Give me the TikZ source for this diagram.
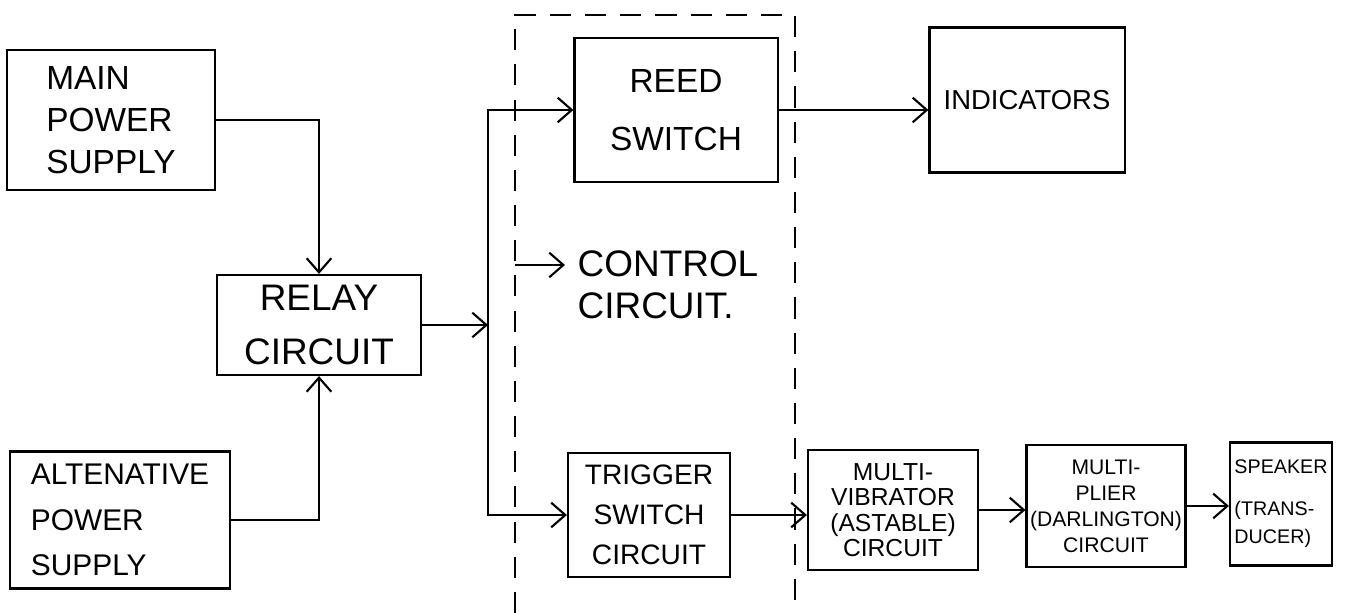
\documentclass[tikz,border=0pt]{standalone}
\usepackage{fontspec}
\setmainfont{Liberation Sans}
\usetikzlibrary{arrows.meta,positioning}

\begin{document}
\begin{tikzpicture}[x=0.01cm,y=-0.01cm,semithick,
  blk/.style={draw,align=center,inner sep=1pt},
  flow/.style={-{Straight Barb[length=4pt,width=7pt]}}]
\useasboundingbox (0,0) rectangle (1351,613);
\draw[dash pattern=on 6pt off 4pt] (515,613) -- (515,15) -- (795,15) -- (795,613);
\node[blk,align=left,minimum width=2.07cm,minimum height=1.40cm,font=\fontsize{9.5}{12}\selectfont] (mainps) at (111,120) {MAIN\\POWER\\SUPPLY};
\node[blk,minimum width=2.04cm,minimum height=1.00cm,font=\fontsize{10.5}{12.5}\selectfont] (relay) at (319,325) {RELAY\\[3pt]CIRCUIT};
\node[blk,align=left,minimum width=2.20cm,minimum height=1.37cm,font=\fontsize{8.5}{13}\selectfont] (altps) at (120,520) {ALTENATIVE\\POWER\\SUPPLY};
\node[blk,minimum width=2.03cm,minimum height=1.44cm,font=\fontsize{9.5}{11.5}\selectfont] (reed) at (676,110) {REED\\[5pt]SWITCH};
\node[blk,minimum width=1.95cm,minimum height=1.45cm,font=\fontsize{7.8}{10}\selectfont] (ind) at (1027,100) {INDICATORS};
\node[align=left,font=\fontsize{10.5}{12}\selectfont] (ctrl) at (668,285) {CONTROL\\CIRCUIT.};
\node[blk,minimum width=1.62cm,minimum height=1.24cm,font=\fontsize{8}{11.4}\selectfont] (trig) at (649,515) {TRIGGER\\SWITCH\\CIRCUIT};
\node[blk,minimum width=1.70cm,minimum height=1.20cm,font=\fontsize{7}{7.2}\selectfont] (mv) at (893,510) {MULTI-\\VIBRATOR\\(ASTABLE)\\CIRCUIT};
\node[blk,minimum width=1.58cm,minimum height=1.22cm,font=\fontsize{6}{7.4}\selectfont] (mult) at (1106,506) {MULTI-\\PLIER\\(DARLINGTON)\\CIRCUIT};
\node[blk,align=left,minimum width=1.02cm,minimum height=1.23cm,font=\fontsize{5.6}{8}\selectfont] (spk) at (1281,504) {SPEAKER\\[4pt](TRANS-\\DUCER)};
\coordinate (split) at (488,325);
\coordinate (ctrlin) at (515,265);
\draw[flow] (mainps.east) -| (relay.north);
\draw[flow] (altps.east) -| (relay.south);
\draw[flow] (relay.east) -- (split);
\draw[flow] (split) |- (reed.west);
\draw[flow] (split) |- (trig.west);
\draw[flow] (ctrlin) -- (ctrlin -| ctrl.west);
\draw[flow] (reed.east) -- (reed.east -| ind.west);
\foreach \a/\b in {trig/mv,mv/mult,mult/spk}
  \draw[flow] (\a.east) -- (\a.east -| \b.west);
\end{tikzpicture}
\end{document}
